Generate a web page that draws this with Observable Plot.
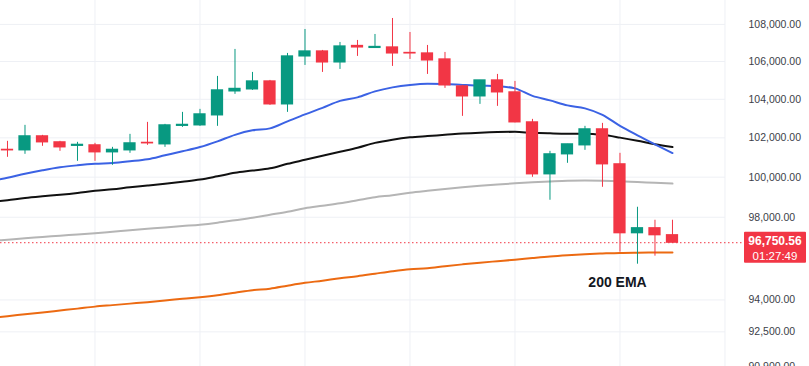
<!DOCTYPE html>
<html>
<head>
<meta charset="utf-8">
<script src="https://cdn.jsdelivr.net/npm/d3@7"></script>
<script src="https://cdn.jsdelivr.net/npm/@observablehq/plot@0.6"></script>
<style>
  html, body { margin: 0; padding: 0; background: #ffffff; }
  #chart svg { display: block; }
</style>
</head>
<body>
<div id="chart"></div>
<script>
// ---- Candles (index 0..38) ----
const open  = [101386,101360,102078,101770,101590,101616,101259,101360,101744,101667,102618,102644,103162,104416,104521,104942,103735,106272,106539,105951,106834,106727,106754,106459,106432,106111,104679,104154,104995,104364,102799,100143,101157,101616,102438,100649,97214,97459,97116];
const high  = [101821,102644,102129,101821,101770,101718,101513,102180,102799,102696,103318,103474,105207,106647,105419,104995,106432,107725,106593,107023,107131,107454,108323,107562,106861,106486,104732,104995,105313,104942,102954,101309,101667,102593,102747,101208,98494,97852,97852];
const low   = [101004,101157,101565,101309,100801,100801,100598,101208,101616,101513,102541,102593,102593,104259,104469,103683,103318,105791,105419,105578,106272,106700,105738,106111,105313,104574,103110,103735,103631,102773,99992,98843,100700,101360,99490,96289,95709,96096,96720];
const close = [101360,102078,101770,101513,101642,101259,101386,101718,101718,102644,102670,103214,104469,104548,104942,103735,106272,106539,105951,106807,106754,106781,106432,106432,106058,104732,104154,104995,104364,102799,100143,101157,101667,102438,100649,97214,97459,97116,96750.56];

// ---- Moving averages (index -1..38) ----
const emaStart = -1;
const ema20  = [99791,99967,100169,100345,100497,100598,100675,100715,100801,100903,101106,101309,101529,101821,102155,102386,102489,102851,103214,103553,103918,104102,104416,104627,104758,104821,104805,104758,104716,104690,104574,104181,103944,103683,103526,103188,102618,102129,101667,101222];
const ema50  = [98744,98843,98957,99042,99116,99206,99315,99390,99490,99575,99665,99766,99876,100042,100219,100330,100446,100675,100877,101080,101284,101488,101743,101908,102026,102093,102155,102221,102268,102299,102309,102258,102232,102216,102216,102155,102011,101847,101667,101529];
const ema100 = [96823,96896,96970,97028,97092,97150,97214,97287,97361,97430,97499,97567,97631,97729,97852,97975,98123,98272,98445,98569,98694,98843,98993,99093,99218,99315,99405,99490,99565,99630,99690,99740,99781,99816,99826,99816,99791,99750,99715,99675];
const ema200 = [93142,93236,93321,93410,93500,93590,93684,93755,93826,93896,93977,94053,94133,94228,94346,94465,94536,94679,94813,94918,95038,95133,95253,95372,95468,95516,95613,95700,95782,95854,95926,96008,96085,96144,96192,96226,96255,96265,96270,96274];

// ---- Axis / labels ----
const yTicks = [108000,106000,104000,102000,100000,98000,94000,92500,90900];
const gridIdx = [5,11,17,23,29,35,41];
const emaLabel = ["200 EMA"];
const countdown = "01:27:49";

const GREEN = "#089981", RED = "#f23645";
const candles = open.map((o, i) => ({i, o, h: high[i], l: low[i], c: close[i], up: close[i] >= o}));
const rows = arr => arr.map((v, k) => ({i: k + emaStart, v}));
const last = close.length - 1;

const plot = Plot.plot({
  width: 809, height: 366,
  marginLeft: 0, marginRight: 84, marginTop: 0, marginBottom: 0,
  style: {fontFamily: "'Liberation Sans', Arial, sans-serif", fontSize: "10.5px", background: "#ffffff", overflow: "hidden"},
  x: {type: "linear", domain: [-0.4, 41.03], axis: null},
  y: {type: "log", domain: [90900, 109309], axis: null},
  marks: [
    Plot.gridX(gridIdx, {stroke: "#eef0f5", strokeOpacity: 1}),
    Plot.gridY(yTicks, {stroke: "#eef0f5", strokeOpacity: 1}),
    Plot.axisY(yTicks, {anchor: "right", tickSize: 0, tickPadding: 23, textAnchor: "start", tickFormat: d3.format(",.2f"), fill: "#3b3e48"}),
    Plot.line(rows(ema200), {x: "i", y: "v", stroke: "#ec6a12", strokeWidth: 2, curve: "monotone-x", clip: true}),
    Plot.line(rows(ema100), {x: "i", y: "v", stroke: "#b5b5b5", strokeWidth: 2, curve: "monotone-x", clip: true}),
    Plot.line(rows(ema50),  {x: "i", y: "v", stroke: "#111111", strokeWidth: 2, curve: "monotone-x", clip: true}),
    Plot.line(rows(ema20),  {x: "i", y: "v", stroke: "#3b62e4", strokeWidth: 2, curve: "monotone-x", clip: true}),
    Plot.ruleY([close[last]], {x1: -0.4, x2: 42.1, stroke: RED, strokeDasharray: "1.5,2.5", strokeWidth: 1}),
    Plot.ruleX(candles, {x: "i", y1: "l", y2: "h", stroke: d => d.up ? GREEN : RED, strokeWidth: 1}),
    Plot.rect(candles, {x1: d => d.i - 0.35, x2: d => d.i + 0.35, y1: "o", y2: "c", fill: d => d.up ? GREEN : RED, insetTop: -0.6, insetBottom: -0.6}),
    Plot.text(emaLabel, {x: () => 34.86, y: () => ema200[35 - emaStart], dy: 30, text: d => d, fontSize: 14, fontWeight: "bold", fill: "#131722"})
  ]
});
document.getElementById("chart").appendChild(plot);

// Last price badge on the right axis, positioned through the plot's y scale
const yy = plot.scale("y").apply(close[last]);
const svg = d3.select(plot);
const badge = svg.append("g");
badge.append("rect").attr("x", 744).attr("y", yy - 10.5).attr("width", 62).attr("height", 31).attr("fill", RED).attr("rx", 1);
badge.append("text").attr("x", 775).attr("y", yy - 1.5).attr("dy", "0.35em").attr("text-anchor", "middle")
  .attr("fill", "#fff").attr("font-weight", "bold").attr("font-size", 12).text(d3.format(",.2f")(close[last]));
badge.append("text").attr("x", 775).attr("y", yy + 13.5).attr("dy", "0.35em").attr("text-anchor", "middle")
  .attr("fill", "#fff").attr("font-size", 11.5).text(countdown);
</script>
</body>
</html>
